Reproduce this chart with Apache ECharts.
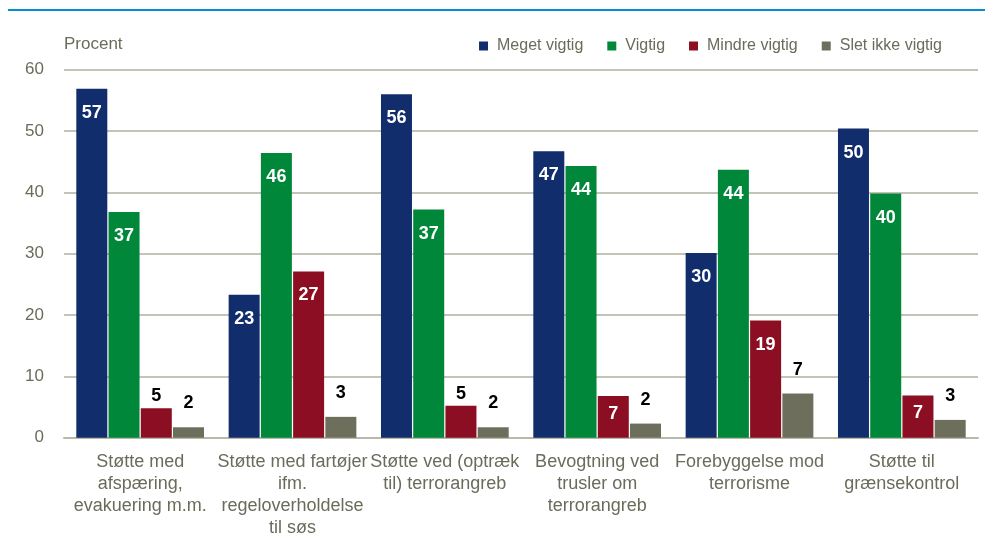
<!DOCTYPE html>
<html>
<head>
<meta charset="utf-8">
<script src="https://cdn.jsdelivr.net/npm/echarts@6/dist/echarts.min.js"></script>
<style>
html,body{margin:0;padding:0;background:#fff;}
#chart{width:985px;height:551px;}
</style>
</head>
<body>
<div id="chart"></div>
<script>
var categories = [
  'Støtte med\nafspæring,\nevakuering m.m.',
  'Støtte med fartøjer\nifm.\nregeloverholdelse\ntil søs',
  'Støtte ved (optræk\ntil) terrorangreb',
  'Bevogtning ved\ntrusler om\nterrorangreb',
  'Forebyggelse mod\nterrorisme',
  'Støtte til\ngrænsekontrol'
];
var seriesNames = ['Meget vigtig', 'Vigtig', 'Mindre vigtig', 'Slet ikke vigtig'];
var megetVigtig = [56.9, 23.3, 56.0, 46.7, 30.1, 50.4];
var vigtig = [36.8, 46.4, 37.2, 44.3, 43.7, 39.8];
var mindreVigtig = [4.8, 27.1, 5.2, 6.8, 19.1, 6.9];
var sletIkkeVigtig = [1.7, 3.4, 1.7, 2.3, 7.2, 2.9];
var yTicks = [0, 10, 20, 30, 40, 50, 60];

var colors = ['#112d6b', '#00873a', '#8b0e22', '#6e6e5c'];
var FONT = '"Liberation Sans", Arial, sans-serif';
var GREY_TEXT = '#6b6b5b';

function labelFor(seriesIdx, v) {
  var base = {
    show: true,
    fontFamily: FONT,
    fontWeight: 'bold',
    fontSize: 18,
    formatter: function (p) { return Math.round(p.value); }
  };
  if (seriesIdx === 3) {
    base.position = 'top'; base.distance = 15; base.color = '#000';
  } else if (seriesIdx === 2 && v < 6) {
    base.position = 'top'; base.distance = 3; base.color = '#000';
  } else if (seriesIdx === 2 && v < 10) {
    base.position = 'insideTop'; base.distance = 9; base.color = '#fff';
  } else {
    base.position = 'insideTop'; base.distance = 15; base.color = '#fff';
  }
  return base;
}

function makeSeries(idx, arr) {
  return {
    name: seriesNames[idx],
    type: 'bar',
    barWidth: 31,
    barGap: '4%',
    itemStyle: { color: colors[idx] },
    data: arr.map(function (v) { return { value: v, label: labelFor(idx, v) }; })
  };
}

var chart = echarts.init(document.getElementById('chart'), null, { renderer: 'canvas' });
chart.setOption({
  animation: false,
  backgroundColor: '#fff',
  color: colors,
  grid: { left: 64, right: 7, top: 69.7, bottom: 113.3, containLabel: false },
  graphic: [
    { type: 'line', shape: { x1: 8, y1: 10, x2: 985, y2: 10 }, style: { stroke: '#0091d3', lineWidth: 2 } },
    { type: 'text', x: 64, y: 44, style: { text: 'Procent', font: '17px ' + FONT, fill: GREY_TEXT, textVerticalAlign: 'middle', verticalAlign: 'middle' } }
  ],
  legend: {
    right: 38, top: 33,
    icon: 'rect', itemWidth: 9, itemHeight: 9, itemGap: 24,
    textStyle: { fontFamily: FONT, fontSize: 16, color: GREY_TEXT, padding: [0, 0, 0, 4] },
    data: seriesNames
  },
  xAxis: {
    type: 'category',
    data: categories,
    axisTick: { show: false },
    axisLine: { lineStyle: { color: '#b9b9aa', width: 2 } },
    axisLabel: { interval: 0, margin: 13, fontFamily: FONT, fontSize: 18, lineHeight: 22, color: GREY_TEXT, align: 'center' }
  },
  yAxis: {
    type: 'value', min: yTicks[0], max: yTicks[yTicks.length - 1], interval: 10,
    axisLine: { show: false }, axisTick: { show: false },
    splitLine: { lineStyle: { color: '#c4c4b6', width: 2 } },
    axisLabel: { margin: 20, fontFamily: FONT, fontSize: 17, color: GREY_TEXT }
  },
  series: [
    makeSeries(0, megetVigtig),
    makeSeries(1, vigtig),
    makeSeries(2, mindreVigtig),
    makeSeries(3, sletIkkeVigtig)
  ]
});
</script>
</body>
</html>
